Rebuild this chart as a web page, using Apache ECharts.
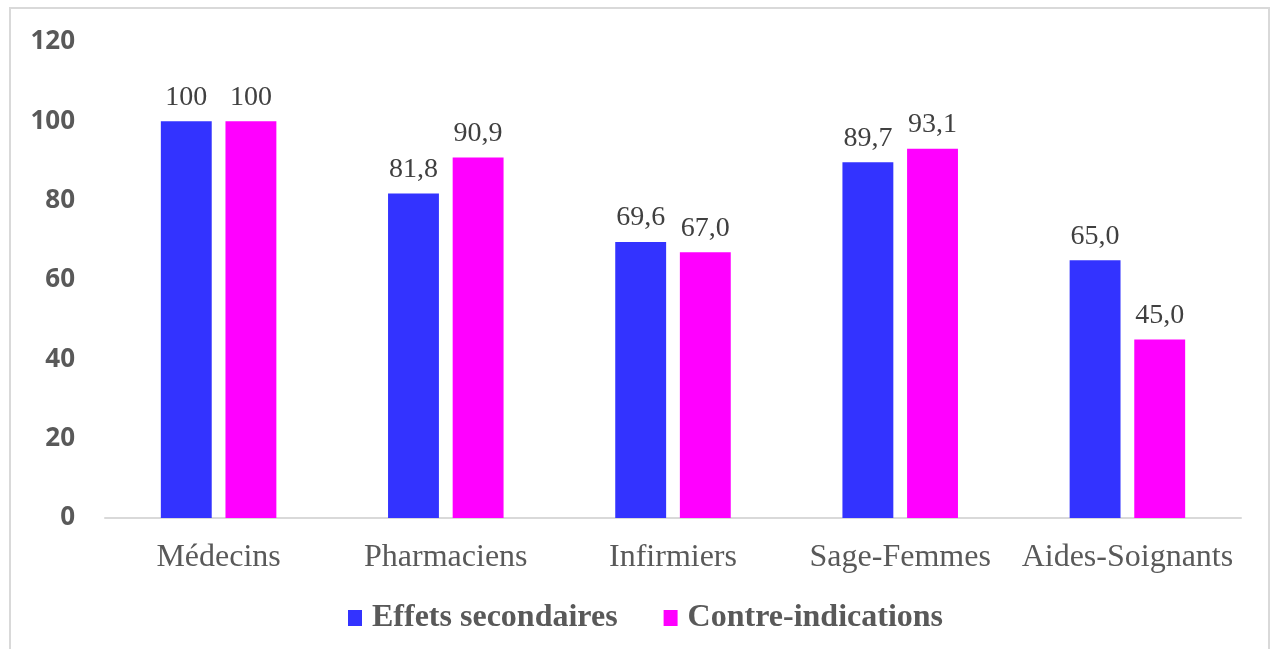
<!DOCTYPE html>
<html><head><meta charset="utf-8">
<script src="https://cdn.jsdelivr.net/npm/echarts@6/dist/echarts.min.js"></script>
<style>html,body{margin:0;padding:0;background:#fff}#c{width:1271px;height:649px}</style>
</head><body><div id="c"></div>
<script>
const categories = ['Médecins','Pharmaciens','Infirmiers','Sage-Femmes','Aides-Soignants'];
const effetsSecondaires = [100, 81.8, 69.6, 89.7, 65.0];
const contreIndications = [100, 90.9, 67.0, 93.1, 45.0];
const seriesNames = ['Effets secondaires','Contre-indications'];
const yTicks = {min:0, max:120, interval:20};

function fmt(v){ return v === 100 ? '100' : v.toFixed(1).replace('.', ','); }
const chart = echarts.init(document.getElementById('c'));
const labelStyle = {show:true, position:'top', distance:10, fontFamily:'Liberation Serif', fontSize:28, color:'#404040', formatter:p=>fmt(p.value)};
chart.setOption({
  animation:false,
  graphic:[{type:'rect', shape:{x:10,y:8,width:1259,height:660}, style:{fill:'none', stroke:'#d9d9d9', lineWidth:2}, silent:true}],
  grid:{left:105, right:30, top:42, bottom:131},
  legend:{top:596, left:343, itemWidth:14, itemHeight:16, itemGap:46, icon:'rect',
    textStyle:{fontFamily:'Liberation Serif', fontWeight:'bold', fontSize:32, color:'#595959', lineHeight:34, padding:[0,0,0,5]},
    data:seriesNames},
  xAxis:{type:'category', data:categories, axisTick:{show:false},
    axisLine:{lineStyle:{color:'#d9d9d9', width:2}},
    axisLabel:{interval:0, fontFamily:'Liberation Serif', fontSize:32, color:'#595959', margin:24}},
  yAxis:{type:'value', min:yTicks.min, max:yTicks.max, interval:yTicks.interval, splitLine:{show:false},
    axisLine:{show:false}, axisTick:{show:false},
    axisLabel:{fontFamily:'Open Sans', fontWeight:'bold', fontSize:26, color:'#595959', margin:30}},
  series:[
    {name:seriesNames[0], type:'bar', data:effetsSecondaires, barWidth:'22.4%', barGap:'27%', itemStyle:{color:'#3333FF'}, label:labelStyle},
    {name:seriesNames[1], type:'bar', data:contreIndications, barWidth:'22.4%', itemStyle:{color:'#FF00FF'}, label:labelStyle}
  ]
});
</script></body></html>
